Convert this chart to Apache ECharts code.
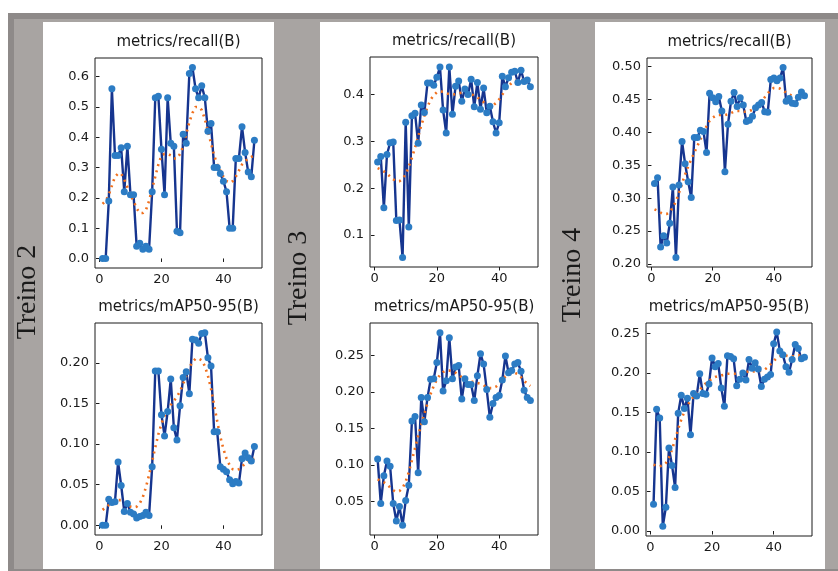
<!DOCTYPE html>
<html>
<head>
<meta charset="utf-8">
<script src="https://cdn.jsdelivr.net/npm/echarts@6/dist/echarts.min.js"></script>
<style>
  html, body { margin: 0; padding: 0; background: #fff; }
  #main { width: 838px; height: 571px; }
</style>
</head>
<body>
<div id="main"></div>
<script>
// epochs on the x axis
const epochs = [1,2,3,4,5,6,7,8,9,10,11,12,13,14,15,16,17,18,19,20,21,22,23,24,25,
  26,27,28,29,30,31,32,33,34,35,36,37,38,39,40,41,42,43,44,45,46,47,48,49,50];

// Treino 2
const t2Recall = [0,0,0.19,0.56,0.34,0.34,0.365,0.22,0.37,0.21,0.21,0.04,0.05,0.03,0.04,0.03,0.22,0.53,0.535,0.36,
  0.21,0.53,0.38,0.37,0.09,0.085,0.41,0.38,0.61,0.63,0.56,0.53,0.57,0.53,0.42,0.445,0.30,0.30,0.28,0.255,
  0.22,0.10,0.10,0.33,0.33,0.435,0.35,0.285,0.27,0.39];
const t2RecallSmooth = [0.18,0.19,0.21,0.24,0.27,0.28,0.28,0.26,0.235,0.21,0.19,0.165,0.15,0.15,0.16,0.19,0.23,0.27,0.31,0.34,
  0.345,0.345,0.34,0.33,0.33,0.345,0.37,0.41,0.45,0.48,0.50,0.50,0.49,0.46,0.42,0.38,0.34,0.31,0.29,0.27,
  0.255,0.25,0.255,0.27,0.29,0.31,0.32,0.33,0.335,0.34];
const t2Map = [0,0,0.032,0.028,0.029,0.078,0.049,0.017,0.027,0.016,0.014,0.009,0.011,0.012,0.016,0.012,0.072,0.19,0.19,0.136,
  0.11,0.14,0.18,0.12,0.105,0.147,0.182,0.189,0.162,0.229,0.228,0.224,0.236,0.237,0.206,0.196,0.115,0.115,0.072,0.069,
  0.066,0.056,0.051,0.054,0.052,0.082,0.089,0.083,0.079,0.097];
const t2MapSmooth = [0.019,0.022,0.025,0.028,0.030,0.031,0.031,0.029,0.026,0.023,0.022,0.023,0.027,0.035,0.047,0.062,0.079,0.096,0.112,0.125,
  0.135,0.142,0.148,0.153,0.158,0.165,0.174,0.184,0.194,0.201,0.205,0.205,0.203,0.196,0.184,0.168,0.148,0.128,0.109,0.094,
  0.082,0.074,0.069,0.068,0.069,0.072,0.076,0.079,0.081,0.082];

// Treino 3
const t3Recall = [0.256,0.268,0.158,0.272,0.297,0.299,0.131,0.132,0.052,0.341,0.117,0.355,0.360,0.296,0.378,0.362,0.425,0.425,0.420,0.437,
  0.459,0.367,0.318,0.459,0.358,0.418,0.429,0.386,0.412,0.400,0.433,0.374,0.426,0.369,0.414,0.361,0.375,0.342,0.318,0.340,
  0.439,0.417,0.436,0.448,0.450,0.426,0.452,0.428,0.431,0.417];
const t3RecallSmooth = [0.243,0.240,0.236,0.231,0.225,0.219,0.216,0.215,0.220,0.230,0.246,0.265,0.287,0.310,0.334,0.355,0.374,0.389,0.399,0.405,
  0.407,0.406,0.403,0.401,0.400,0.401,0.403,0.404,0.404,0.403,0.401,0.398,0.394,0.389,0.384,0.379,0.377,0.377,0.382,0.390,
  0.400,0.410,0.418,0.425,0.429,0.431,0.432,0.431,0.430,0.429];
const t3Map = [0.108,0.047,0.085,0.105,0.098,0.047,0.023,0.043,0.017,0.051,0.072,0.160,0.166,0.089,0.192,0.159,0.192,0.217,0.218,0.240,
  0.281,0.201,0.215,0.274,0.218,0.234,0.236,0.190,0.218,0.210,0.210,0.188,0.222,0.252,0.238,0.203,0.165,0.184,0.192,0.195,
  0.216,0.249,0.226,0.229,0.238,0.240,0.228,0.202,0.192,0.188];
const t3MapSmooth = [0.080,0.078,0.076,0.073,0.069,0.065,0.063,0.064,0.068,0.077,0.090,0.106,0.123,0.140,0.155,0.170,0.184,0.197,0.208,0.217,
  0.223,0.227,0.229,0.229,0.228,0.226,0.223,0.220,0.217,0.215,0.214,0.213,0.212,0.211,0.209,0.206,0.205,0.205,0.207,0.211,
  0.216,0.221,0.224,0.226,0.226,0.224,0.220,0.215,0.211,0.208];

// Treino 4
const t4Recall = [0.322,0.331,0.226,0.243,0.232,0.262,0.317,0.210,0.320,0.386,0.352,0.325,0.301,0.392,0.392,0.403,0.401,0.369,0.459,0.452,
  0.446,0.454,0.432,0.340,0.412,0.447,0.460,0.439,0.452,0.441,0.416,0.418,0.424,0.437,0.441,0.445,0.431,0.430,0.480,0.482,
  0.478,0.482,0.498,0.447,0.451,0.444,0.443,0.453,0.461,0.455];
const t4RecallSmooth = [0.283,0.281,0.278,0.276,0.276,0.279,0.286,0.295,0.308,0.322,0.336,0.348,0.359,0.369,0.379,0.389,0.399,0.409,0.417,0.422,
  0.425,0.426,0.426,0.426,0.427,0.429,0.431,0.432,0.432,0.431,0.431,0.432,0.434,0.437,0.441,0.447,0.453,0.459,0.464,0.467,
  0.467,0.466,0.463,0.460,0.457,0.455,0.455,0.455,0.455,0.455];
const t4Map = [0.034,0.154,0.143,0.006,0.030,0.105,0.083,0.055,0.149,0.172,0.155,0.168,0.122,0.174,0.171,0.199,0.174,0.173,0.186,0.219,
  0.208,0.212,0.181,0.158,0.222,0.221,0.218,0.184,0.192,0.200,0.191,0.217,0.206,0.213,0.205,0.183,0.192,0.195,0.198,0.237,
  0.252,0.228,0.223,0.208,0.201,0.217,0.236,0.231,0.218,0.220];
const t4MapSmooth = [0.084,0.083,0.082,0.083,0.086,0.093,0.103,0.116,0.129,0.141,0.151,0.159,0.165,0.170,0.175,0.179,0.183,0.187,0.190,0.193,
  0.195,0.196,0.197,0.198,0.199,0.199,0.199,0.199,0.199,0.200,0.201,0.202,0.202,0.202,0.202,0.203,0.204,0.207,0.211,0.215,
  0.219,0.221,0.222,0.222,0.221,0.221,0.221,0.222,0.222,0.222];

// tick values
const xTicks = [0, 20, 40];
const yTicksT2Recall = [0, 0.1, 0.2, 0.3, 0.4, 0.5, 0.6];
const yTicksT2Map = [0, 0.05, 0.1, 0.15, 0.2];
const yTicksT3Recall = [0.1, 0.2, 0.3, 0.4];
const yTicksT3Map = [0.05, 0.1, 0.15, 0.2, 0.25];
const yTicksT4Recall = [0.2, 0.25, 0.3, 0.35, 0.4, 0.45, 0.5];
const yTicksT4Map = [0, 0.05, 0.1, 0.15, 0.2, 0.25];

const panels = [
  {title: 'metrics/recall(B)', grid: [95, 58, 167, 210], yMin: -0.0315, yMax: 0.6615, yTicks: yTicksT2Recall, dec: 1, res: t2Recall, smooth: t2RecallSmooth},
  {title: 'metrics/mAP50-95(B)', grid: [95, 323, 167, 212], yMin: -0.0119, yMax: 0.2489, yTicks: yTicksT2Map, dec: 2, res: t2Map, smooth: t2MapSmooth},
  {title: 'metrics/recall(B)', grid: [370, 57, 168, 210], yMin: 0.0316, yMax: 0.4804, yTicks: yTicksT3Recall, dec: 1, res: t3Recall, smooth: t3RecallSmooth},
  {title: 'metrics/mAP50-95(B)', grid: [370, 323, 168, 212], yMin: 0.0038, yMax: 0.2942, yTicks: yTicksT3Map, dec: 2, res: t3Map, smooth: t3MapSmooth},
  {title: 'metrics/recall(B)', grid: [647, 58, 165, 209], yMin: 0.1956, yMax: 0.5124, yTicks: yTicksT4Recall, dec: 2, res: t4Recall, smooth: t4RecallSmooth},
  {title: 'metrics/mAP50-95(B)', grid: [646, 323, 166, 213], yMin: -0.0063, yMax: 0.2633, yTicks: yTicksT4Map, dec: 2, res: t4Map, smooth: t4MapSmooth},
];

const FONT = 'DejaVu Sans';
const LABEL_FONT = '28px "Liberation Serif", "DejaVu Serif", serif';
const chart = echarts.init(document.getElementById('main'));

const option = {
  animation: false,
  textStyle: {fontFamily: FONT},
  title: panels.map(p => ({
    text: p.title,
    left: p.grid[0] + p.grid[2] / 2,
    top: p.grid[1] - 23,
    textAlign: 'center',
    padding: 0,
    textStyle: {fontFamily: FONT, fontSize: 15, fontWeight: 'normal', color: '#1a1a1a'}
  })),
  grid: panels.map(p => ({
    left: p.grid[0], top: p.grid[1], width: p.grid[2], height: p.grid[3],
    show: true, backgroundColor: '#fff', borderColor: '#1a1a1a', borderWidth: 1
  })),
  xAxis: panels.map((p, i) => ({
    type: 'value', gridIndex: i, min: -1.45, max: 52.45,
    axisLine: {show: false},
    splitLine: {show: false},
    axisTick: {show: true, length: 3.5, customValues: xTicks, lineStyle: {color: '#1a1a1a'}},
    axisLabel: {customValues: xTicks, margin: 5, fontSize: 13, color: '#1a1a1a', fontFamily: FONT}
  })),
  yAxis: panels.map((p, i) => ({
    type: 'value', gridIndex: i, min: p.yMin, max: p.yMax,
    axisLine: {show: false},
    splitLine: {show: false},
    axisTick: {show: true, length: 3.5, customValues: p.yTicks, lineStyle: {color: '#1a1a1a'}},
    axisLabel: {customValues: p.yTicks, margin: 6, fontSize: 13, color: '#1a1a1a', fontFamily: FONT,
      formatter: v => v.toFixed(p.dec)}
  })),
  series: panels.flatMap((p, i) => [
    {
      type: 'line', xAxisIndex: i, yAxisIndex: i,
      data: epochs.map((e, k) => [e, p.res[k]]),
      symbol: 'circle', symbolSize: 7,
      lineStyle: {color: '#16358f', width: 2.4},
      itemStyle: {color: '#2c7cc4'}
    },
    {
      type: 'line', xAxisIndex: i, yAxisIndex: i,
      data: epochs.map((e, k) => [e, p.smooth[k]]),
      symbol: 'none',
      lineStyle: {color: '#f0701e', width: 2.6, type: [2, 4.4]}
    }
  ]),
  graphic: [
    {type: 'rect', z: -10, shape: {x: 8, y: 13, width: 830, height: 558}, style: {fill: '#8e8a89'}},
    {type: 'rect', z: -9, shape: {x: 14, y: 19, width: 824, height: 550}, style: {fill: '#a8a4a2'}},
    {type: 'rect', z: -8, shape: {x: 43, y: 22, width: 231, height: 547}, style: {fill: '#fff'}},
    {type: 'rect', z: -8, shape: {x: 320, y: 22, width: 230, height: 547}, style: {fill: '#fff'}},
    {type: 'rect', z: -8, shape: {x: 595, y: 22, width: 230, height: 547}, style: {fill: '#fff'}},
    {type: 'text', x: 28, y: 292, rotation: Math.PI / 2,
      style: {text: 'Treino 2', font: LABEL_FONT, fill: '#1a1a1a', align: 'center', verticalAlign: 'middle'}},
    {type: 'text', x: 299, y: 278, rotation: Math.PI / 2,
      style: {text: 'Treino 3', font: LABEL_FONT, fill: '#1a1a1a', align: 'center', verticalAlign: 'middle'}},
    {type: 'text', x: 573, y: 275, rotation: Math.PI / 2,
      style: {text: 'Treino 4', font: LABEL_FONT, fill: '#1a1a1a', align: 'center', verticalAlign: 'middle'}}
  ]
};

chart.setOption(option);
</script>
</body>
</html>
